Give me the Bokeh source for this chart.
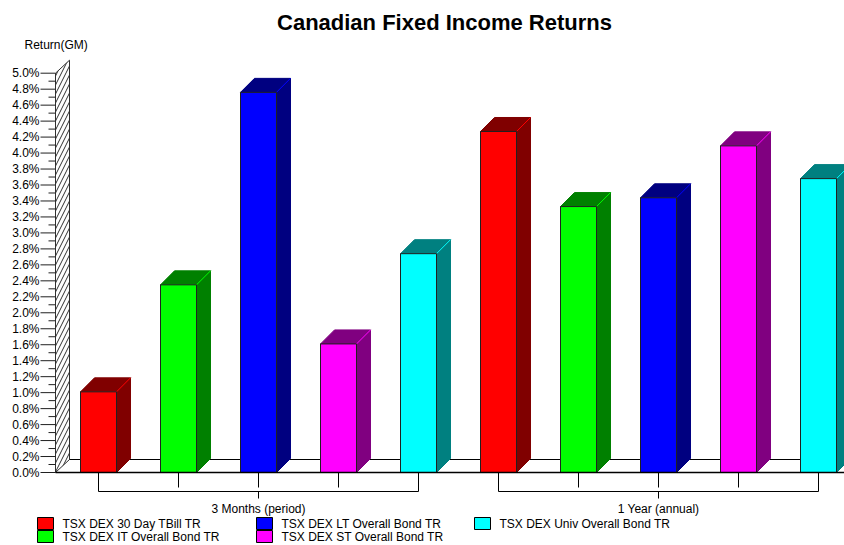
from bokeh.plotting import figure
from bokeh.models import Range1d
from bokeh.core.properties import value
from bokeh.embed import file_html
from bokeh.resources import INLINE

# ---------------- data ----------------
chart_title = "Canadian Fixed Income Returns"
y_title = "Return(GM)"
periods = ["3 Months (period)", "1 Year (annual)"]
series = ["TSX DEX 30 Day TBill TR", "TSX DEX IT Overall Bond TR",
          "TSX DEX LT Overall Bond TR", "TSX DEX ST Overall Bond TR",
          "TSX DEX Univ Overall Bond TR"]
returns_3m = [1.01, 2.35, 4.76, 1.61, 2.74]
returns_1y = [4.27, 3.33, 3.44, 4.09, 3.68]
front_colors = ["#FF0000", "#00FF00", "#0000FF", "#FF00FF", "#00FFFF"]
shade_colors = ["#800000", "#008000", "#000080", "#800080", "#008080"]
y_ticks = [0.0, 0.2, 0.4, 0.6, 0.8, 1.0, 1.2, 1.4, 1.6, 1.8, 2.0, 2.2, 2.4,
           2.6, 2.8, 3.0, 3.2, 3.4, 3.6, 3.8, 4.0, 4.2, 4.4, 4.6, 4.8, 5.0]
y_tick_labels = ["0.0%", "0.2%", "0.4%", "0.6%", "0.8%", "1.0%", "1.2%", "1.4%",
                 "1.6%", "1.8%", "2.0%", "2.2%", "2.4%", "2.6%", "2.8%", "3.0%",
                 "3.2%", "3.4%", "3.6%", "3.8%", "4.0%", "4.2%", "4.4%", "4.6%",
                 "4.8%", "5.0%"]
y_minor = [0.1, 0.3, 0.5, 0.7, 0.9, 1.1, 1.3, 1.5, 1.7, 1.9, 2.1, 2.3, 2.5,
           2.7, 2.9, 3.1, 3.3, 3.5, 3.7, 3.9, 4.1, 4.3, 4.5, 4.7, 4.9]
period_values = [returns_3m, returns_1y]

# ---------------- layout (pixels) ----------------
W, H = 844, 545
SLOT = 80.0          # px per bar slot
X0_PX = 98.0         # screen x of first bar centre
ZERO_PX = 472.0      # screen y of 0 %
PPU = 79.86          # px per 1 %


def sx(px):
    return (px - X0_PX) / SLOT


def sy(py):
    return (ZERO_PX - py) / PPU


def dx(px):
    return px / SLOT


def dy(py):
    return py / PPU


FONT = value("Liberation Sans")

p = figure(width=W, height=H,
           x_range=Range1d(sx(0), sx(W)),
           y_range=Range1d(sy(H), sy(0)),
           output_backend="svg", toolbar_location=None,
           x_axis_type=None, y_axis_type=None, min_border=0)
p.outline_line_color = None
p.background_fill_color = "white"
p.border_fill_color = "white"

# ---------------- wall & floor ----------------
wf = sx(55)
wb = wf + dx(14)
wdy = dy(13)
top = y_ticks[-1]
x_end = sx(W) + 1
p.patch([wf, wf, wb, wb], [0, top, top + wdy, wdy], fill_color="white",
        hatch_pattern="/", hatch_color="#303030", hatch_scale=9, hatch_weight=1,
        line_color="#303030", line_width=1)
p.line([wb, x_end], [wdy, wdy], line_color="black", line_width=1)

# ---------------- bars ----------------
hw = dx(18)
bdx, bdy = dx(14), dy(14)
for g, vals in enumerate(period_values):
    for k, v in enumerate(vals):
        c = g * len(vals) + k
        l, r = c - hw, c + hw
        p.patch([r, r + bdx, r + bdx, r], [0, bdy, v + bdy, v],
                fill_color=shade_colors[k], line_color=shade_colors[k], line_width=1)
        p.patch([l, l + bdx, r + bdx, r], [v, v + bdy, v + bdy, v],
                fill_color=shade_colors[k], line_color=shade_colors[k], line_width=1)
        p.line([r, r + bdx], [v, v + bdy], line_color=front_colors[k], line_width=1)
        p.quad(left=l, right=r, bottom=0, top=v, fill_color=front_colors[k],
               line_color="#202020", line_width=1)

# front floor line
p.line([wf, x_end], [0, 0], line_color="black", line_width=1.5)

# ---------------- y axis ticks ----------------
p.segment(x0=[sx(40)] * len(y_ticks), y0=y_ticks, x1=[wf] * len(y_ticks), y1=y_ticks,
          line_color="#202020", line_width=1)
p.segment(x0=[sx(48)] * len(y_minor), y0=y_minor, x1=[wf] * len(y_minor), y1=y_minor,
          line_color="#202020", line_width=1)
p.text(x=[sx(39)] * len(y_ticks), y=y_ticks, text=y_tick_labels,
       text_align="right", text_baseline="middle", text_font=FONT,
       text_font_size="12px", text_color="black")
p.text(x=[sx(24)], y=[sy(44)], text=[y_title], text_align="left",
       text_baseline="middle", text_font=FONT, text_font_size="12px",
       text_color="black")

# ---------------- category axis ----------------
for g, vals in enumerate(period_values):
    n = len(vals)
    first, last = g * n, g * n + n - 1
    mid = (first + last) / 2
    inner = list(range(first + 1, last))
    p.segment(x0=inner, y0=[0] * len(inner), x1=inner, y1=[sy(487)] * len(inner),
              line_color="black", line_width=1)
    p.segment(x0=[first, last], y0=[0, 0], x1=[first, last], y1=[sy(491), sy(491)],
              line_color="black", line_width=1)
    p.line([first, last], [sy(491), sy(491)], line_color="black", line_width=1)
    p.segment(x0=[mid], y0=[sy(491)], x1=[mid], y1=[sy(498)],
              line_color="black", line_width=1)
    p.text(x=[mid], y=[sy(508)], text=[periods[g]], text_align="center",
           text_baseline="middle", text_font=FONT, text_font_size="12px",
           text_color="black")

# ---------------- title ----------------
p.text(x=[sx(444)], y=[sy(22)], text=[chart_title], text_align="center",
       text_baseline="middle", text_font=FONT, text_font_size="22px",
       text_font_style="bold", text_color="black")

# ---------------- legend ----------------
col_left = [37, 256, 474]
row_mid = [523, 536]
for idx, name in enumerate(series):
    col, row = idx // 2, idx % 2
    lx = col_left[col]
    ym = row_mid[row]
    p.quad(left=sx(lx), right=sx(lx + 16), bottom=sy(ym + 6), top=sy(ym - 6),
           fill_color=front_colors[idx], line_color="black", line_width=1)
    p.text(x=[sx(lx + 25)], y=[sy(ym)], text=[name], text_align="left",
           text_baseline="middle", text_font=FONT, text_font_size="12px",
           text_color="black")

open("out.html", "w").write(file_html(p, INLINE))
